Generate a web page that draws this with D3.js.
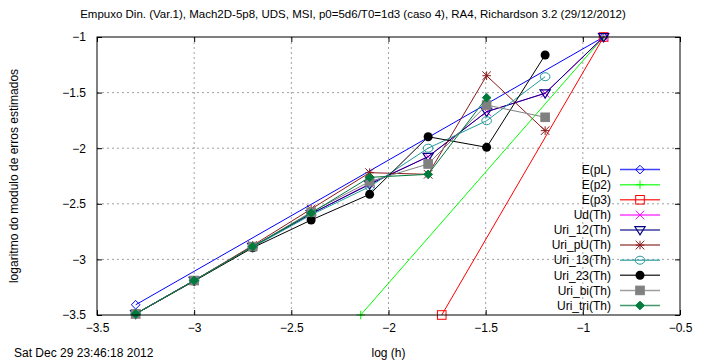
<!DOCTYPE html>
<html>
<head>
<meta charset="utf-8">
<script src="https://cdn.jsdelivr.net/npm/d3@7"></script>
<style>
body { margin:0; background:#fff; }
text { font-family: "Liberation Sans", Arial, sans-serif; fill:#000; }
.grid line { stroke:#a0a0a0; stroke-dasharray:2,3; stroke-width:1; }
</style>
</head>
<body>
<svg id="graph"></svg>
<script>
// log(h) values of the grids
var logH = [-3.301, -3.0, -2.699, -2.398, -2.097, -1.796, -1.495, -1.194, -0.893];

var xTicks = [-3.5, -3, -2.5, -2, -1.5, -1, -0.5];
var yTicks = [-1, -1.5, -2, -2.5, -3, -3.5];

// reference lines (slope pL=1, p2=2, p3=3)
var epL_x = [-3.301, -0.893], epL_y = [-3.408, -1.0];
var ep2_x = [-2.143, -0.893], ep2_y = [-3.5, -1.0];
var ep3_x = [-1.726, -0.893], ep3_y = [-3.5, -1.0];

// estimated errors
var ud     = [-3.49, -3.19, -2.885, -2.59, -2.32, -2.076, -1.672, -1.506, -1.0];
var uri12  = [-3.49, -3.19, -2.885, -2.59, -2.325, -2.076, -1.672, -1.506, -1.0];
var uriPU  = [-3.49, -3.19, -2.875, -2.547, -2.22, -2.235, -1.348, -1.842];
var uri13  = [-3.49, -3.19, -2.89, -2.60, -2.346, -2.0, -1.753, -1.357];
var uri23  = [-3.49, -3.195, -2.895, -2.646, -2.415, -1.897, -1.992, -1.162];
var uriBi  = [-3.49, -3.19, -2.885, -2.575, -2.30, -2.142, -1.612, -1.722];
var uriTri = [-3.49, -3.19, -2.885, -2.583, -2.262, -2.235, -1.546];

var names  = ["E(pL)","E(p2)","E(p3)","Ud(Th)","Uri_12(Th)","Uri_pU(Th)","Uri_13(Th)","Uri_23(Th)","Uri_bi(Th)","Uri_tri(Th)"];
var colors = ["#0000ff","#00ff00","#ff0000","#ff00ff","#000080","#8b1a1a","#229a9a","#000000","#808080","#007a3d"];
var shapes = ["diamondOpen","plus","squareOpen","cross","triDown","star","circleOpen","circleFill","squareFill","diamondFill"];

var zip = function(xs, ys) {
    return ys.map(function(y, i) { return {x: xs[i], y: y}; });
};

var series = [
    zip(epL_x, epL_y), zip(ep2_x, ep2_y), zip(ep3_x, ep3_y),
    zip(logH, ud), zip(logH, uri12), zip(logH, uriPU), zip(logH, uri13),
    zip(logH, uri23), zip(logH, uriBi), zip(logH, uriTri)
];

var drawMarker = function(g, shape, color, cx, cy)
{
    var m = g.append("g").attr("transform","translate("+cx+","+cy+")");
    var s = 4.3;
    if (shape == "diamondOpen" || shape == "diamondFill") {
        m.append("path").attr("d","M0,"+(-s)+"L"+s+",0L0,"+s+"L"+(-s)+",0Z")
            .attr("fill", shape == "diamondFill" ? color : "none")
            .attr("stroke", color).attr("stroke-width",1);
    } else if (shape == "plus") {
        m.append("path").attr("d","M"+(-s)+",0H"+s+"M0,"+(-s)+"V"+s)
            .attr("stroke", color).attr("stroke-width",1);
    } else if (shape == "squareOpen" || shape == "squareFill") {
        m.append("rect").attr("x",-s).attr("y",-s).attr("width",2*s).attr("height",2*s)
            .attr("fill", shape == "squareFill" ? color : "none")
            .attr("stroke", color).attr("stroke-width",1);
    } else if (shape == "cross") {
        m.append("path").attr("d","M"+(-s)+","+(-s)+"L"+s+","+s+"M"+(-s)+","+s+"L"+s+","+(-s))
            .attr("stroke", color).attr("stroke-width",1);
    } else if (shape == "triDown") {
        m.append("path").attr("d","M"+(-s-0.8)+","+(-s+1)+"L"+(s+0.8)+","+(-s+1)+"L0,"+(s+0.5)+"Z")
            .attr("fill","none").attr("stroke", color).attr("stroke-width",1.2);
    } else if (shape == "star") {
        m.append("path").attr("d","M"+(-s)+",0H"+s+"M0,"+(-s)+"V"+s+
            "M"+(-s)+","+(-s)+"L"+s+","+s+"M"+(-s)+","+s+"L"+s+","+(-s))
            .attr("stroke", color).attr("stroke-width",1);
    } else if (shape == "circleOpen") {
        m.append("ellipse").attr("rx",s+0.5).attr("ry",s-0.3)
            .attr("fill","none").attr("stroke", color).attr("stroke-width",1);
    } else if (shape == "circleFill") {
        m.append("circle").attr("r",s+0.2).attr("fill", color);
    }
};

var initGraph = function(target)
{
    var screen = {width:706, height:363};
    var margins = {top:37, bottom:48, left:97, right:26};
    var graph = {
        width: screen.width-margins.left-margins.right,
        height: screen.height-margins.top-margins.bottom
    };

    var svg = d3.select(target)
        .attr("width",screen.width)
        .attr("height",screen.height);

    var xScale = d3.scaleLinear().domain([-3.5,-0.5]).range([0,graph.width]);
    var yScale = d3.scaleLinear().domain([-3.5,-1]).range([graph.height,0]);

    var g = svg.append("g")
        .attr("transform","translate("+margins.left+","+margins.top+")");

    // grid
    var grid = g.append("g").classed("grid",true);
    grid.selectAll(".gx").data(xTicks.slice(1,-1)).enter().append("line")
        .attr("x1",function(d){return xScale(d);}).attr("x2",function(d){return xScale(d);})
        .attr("y1",0).attr("y2",graph.height);
    grid.selectAll(".gy").data(yTicks.slice(1,-1)).enter().append("line")
        .attr("y1",function(d){return yScale(d);}).attr("y2",function(d){return yScale(d);})
        .attr("x1",0).attr("x2",graph.width);

    // axes with mirrored inward ticks
    var ax = function(sel) { sel.select(".domain").remove(); sel.selectAll("line").attr("stroke","#000"); };
    g.append("g").attr("transform","translate(0,"+graph.height+")")
        .call(d3.axisBottom(xScale).tickValues(xTicks).tickSizeInner(-5).tickSizeOuter(0).tickPadding(8)
            .tickFormat(d3.format("")))
        .call(ax)
        .selectAll("text").style("font-size","12px").attr("font-family",null);
    g.append("g")
        .call(d3.axisTop(xScale).tickValues(xTicks).tickSizeInner(-5).tickSizeOuter(0).tickFormat(""))
        .call(ax);
    g.append("g")
        .call(d3.axisLeft(yScale).tickValues(yTicks).tickSizeInner(-5).tickSizeOuter(0).tickPadding(11)
            .tickFormat(d3.format("")))
        .call(ax)
        .selectAll("text").style("font-size","12px").attr("font-family",null);
    g.append("g").attr("transform","translate("+graph.width+",0)")
        .call(d3.axisRight(yScale).tickValues(yTicks).tickSizeInner(-5).tickSizeOuter(0).tickFormat(""))
        .call(ax);

    // lines and points
    var line = d3.line()
        .x(function(d){return xScale(d.x);})
        .y(function(d){return yScale(d.y);});

    series.forEach(function(data, k) {
        var sg = g.append("g");
        sg.append("path").datum(data).attr("d",line)
            .attr("fill","none").attr("stroke",colors[k]).attr("stroke-width",1);
        data.forEach(function(d) {
            drawMarker(sg, shapes[k], colors[k], xScale(d.x), yScale(d.y));
        });
    });

    // legend
    var legend = g.append("g").attr("transform","translate(0,"+(169.6-margins.top)+")");
    names.forEach(function(name, k) {
        var row = legend.append("g").attr("transform","translate(0,"+(k*15.1)+")");
        row.append("text").text(name)
            .attr("x",611).attr("dy","0.35em").attr("text-anchor","end")
            .style("font-size","12px");
        row.append("line").attr("x1",523).attr("x2",563).attr("y1",0).attr("y2",0)
            .attr("stroke",colors[k]).attr("stroke-width",1.5).attr("opacity",0.75);
        drawMarker(row, shapes[k], colors[k], 543, 0);
    });
    legend.selectAll("text").attr("x",514);

    // border
    g.append("rect").attr("width",graph.width).attr("height",graph.height)
        .attr("fill","none").attr("stroke","#000").attr("stroke-width",1);

    // labels
    svg.append("text")
        .text("Empuxo Din. (Var.1), Mach2D-5p8, UDS, MSI, p0=5d6/T0=1d3 (caso 4), RA4, Richardson 3.2 (29/12/2012)")
        .attr("x",353).attr("y",18).attr("text-anchor","middle").style("font-size","11.5px");
    svg.append("text").text("log (h)")
        .attr("x",margins.left+graph.width/2).attr("y",357).attr("text-anchor","middle").style("font-size","12px");
    svg.append("text").text("Sat Dec 29 23:46:18 2012")
        .attr("x",14).attr("y",357).style("font-size","12px");
    svg.append("g").attr("transform","translate(18,"+(margins.top+graph.height/2)+")")
        .append("text").text("logaritmo do modulo de erros estimados")
        .attr("transform","rotate(-90)").attr("text-anchor","middle").style("font-size","12px");
};

initGraph("#graph");
</script>
</body>
</html>
